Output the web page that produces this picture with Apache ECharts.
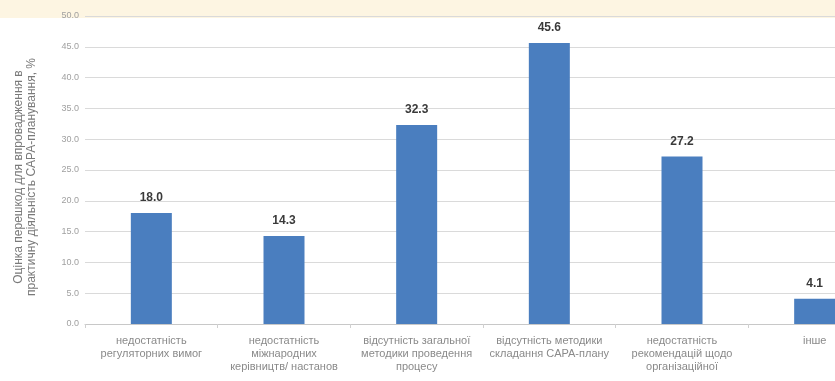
<!DOCTYPE html>
<html>
<head>
<meta charset="utf-8">
<script src="https://cdn.jsdelivr.net/npm/echarts@6/dist/echarts.min.js"></script>
<style>
html, body { margin: 0; padding: 0; background: #fff; overflow: hidden; }
/* the plot runs past the right edge of the window, like the cropped source */
#chart { width: 881px; height: 381px; }
</style>
</head>
<body>
<div id="chart"></div>
<script>
var categories = [
    "недостатність\nрегуляторних вимог",
    "недостатність\nміжнародних\nкерівництв/ настанов",
    "відсутність загальної\nметодики проведення\nпроцесу",
    "відсутність методики\nскладання CAPA-плану",
    "недостатність\nрекомендацій щодо\nорганізаційної",
    "інше"
];
var values = [18.0, 14.3, 32.3, 45.6, 27.2, 4.1];
var yTicks = [0, 5, 10, 15, 20, 25, 30, 35, 40, 45, 50];
var yTitle = "Оцінка перешкод для впровадження в\nпрактичну діяльність CAPA-планування, %";

var chart = echarts.init(document.getElementById("chart"));

var option = {
    animation: false,
    textStyle: { fontFamily: "Liberation Sans" },
    graphic: [{
        type: "rect",
        left: 0,
        top: 0,
        z: -1,
        shape: { width: 881, height: 18 },
        style: { fill: "#fdf5e2" }
    }],
    grid: {
        left: 85,
        right: 0,
        top: 16,
        bottom: 57
    },
    xAxis: {
        type: "category",
        data: categories,
        axisLine: { lineStyle: { color: "#c8c8c8" } },
        axisTick: { show: true, length: 4, lineStyle: { color: "#d0d0d0" } },
        axisLabel: {
            interval: 0,
            color: "#8a8a8a",
            fontSize: 11,
            lineHeight: 13,
            margin: 10
        }
    },
    yAxis: {
        type: "value",
        min: yTicks[0],
        max: yTicks[yTicks.length - 1],
        interval: 5,
        name: yTitle,
        nameLocation: "middle",
        nameGap: 47,
        nameTextStyle: { color: "#7a7a7a", fontSize: 12, lineHeight: 13, padding: [0, 14, 0, 0] },
        axisLine: { show: false },
        axisTick: { show: false },
        axisLabel: {
            color: "#a0a0a0",
            fontSize: 9,
            margin: 6,
            formatter: function (v) { return v.toFixed(1); }
        },
        splitLine: { lineStyle: { color: "#dadada" } }
    },
    series: [{
        type: "bar",
        data: values,
        barWidth: 41,
        itemStyle: { color: "#4a7ebf" },
        label: {
            show: true,
            position: "top",
            distance: 9,
            color: "#3a3a3a",
            fontSize: 12,
            fontWeight: "bold",
            formatter: function (p) { return p.value.toFixed(1); }
        }
    }]
};

chart.setOption(option);
</script>
</body>
</html>
